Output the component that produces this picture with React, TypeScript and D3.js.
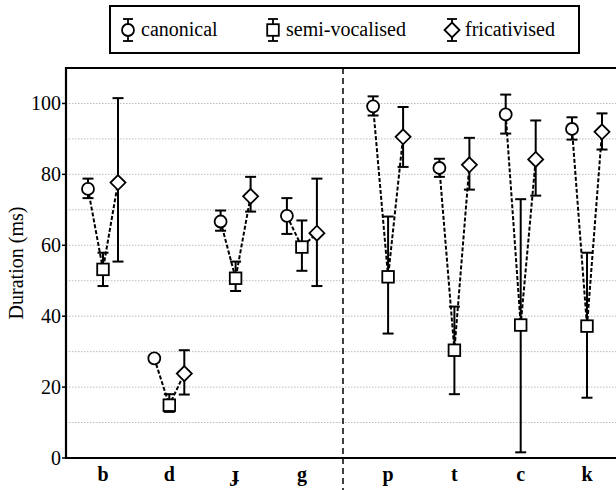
import React from "react";
import * as d3 from "d3";

const categories = ["b", "d", "ɟ", "g", "p", "t", "c", "k"];
const seriesNames = ["canonical", "semi-vocalised", "fricativised"];

const canonicalMean = [75.9, 28.1, 66.7, 68.3, 99.2, 81.8, 96.9, 92.8];
const canonicalLo = [73.3, 27.2, 64.1, 63.2, 96.6, 79.3, 91.5, 89.8];
const canonicalHi = [78.8, 29.0, 69.8, 73.3, 102.0, 84.4, 102.5, 96.1];

const semiMean = [53.2, 14.9, 50.7, 59.5, 51.1, 30.4, 37.5, 37.2];
const semiLo = [48.5, 13.0, 47.1, 52.8, 35.1, 18.0, 1.6, 17.0];
const semiHi = [57.9, 18.0, 55.4, 67.0, 68.1, 42.7, 73.0, 57.9];

const fricMean = [77.7, 23.8, 73.8, 63.4, 90.6, 82.7, 84.2, 92.0];
const fricLo = [55.4, 17.9, 69.5, 48.5, 82.1, 75.7, 74.0, 87.0];
const fricHi = [101.5, 30.4, 79.3, 78.8, 99.0, 90.3, 95.2, 97.2];

const yTicks = [0, 20, 40, 60, 80, 100];
const yGrid = [10, 20, 30, 40, 50, 60, 70, 80, 90, 100];

const W = 616;
const H = 490;
const FONT = '"Liberation Serif", "Times New Roman", Times, serif';

const series = [
  { name: seriesNames[0], shape: "circle", mean: canonicalMean, lo: canonicalLo, hi: canonicalHi, off: -15 },
  { name: seriesNames[1], shape: "square", mean: semiMean, lo: semiLo, hi: semiHi, off: 0 },
  { name: seriesNames[2], shape: "diamond", mean: fricMean, lo: fricLo, hi: fricHi, off: 15 },
];

function Marker({ shape, cx, cy }: { shape: string; cx: number; cy: number }) {
  const common = { fill: "#fff", stroke: "#000", strokeWidth: 1.8 };
  if (shape === "circle") return <circle cx={cx} cy={cy} r={6} {...common} />;
  if (shape === "square") return <rect x={cx - 5.8} y={cy - 5.8} width={11.6} height={11.6} {...common} />;
  const s = 7.5;
  return <path d={`M${cx},${cy - s}L${cx + s},${cy}L${cx},${cy + s}L${cx - s},${cy}Z`} {...common} />;
}

export default function App() {
  const left = 66;
  const top = 68;
  const bottom = 458;
  const groupGap = 0.3;
  const pos = (i: number) => i + (i >= 4 ? groupGap : 0);
  const x = d3.scaleLinear().domain([0, pos(7)]).range([103, 587]);
  const y = d3.scaleLinear().domain([0, 110]).range([bottom, top]);
  const divider = (x(pos(3)) + x(pos(4))) / 2 - 2;
  const line = d3.line<[number, number]>().x((d) => d[0]).y((d) => d[1]);
  const cap = 5.5;
  const textStyle = { fontFamily: FONT };

  return (
    <svg
      width={W}
      height={H}
      style={{ position: "absolute", left: 0, top: 0, display: "block", background: "#fff", fontFamily: FONT }}
    >
      {/* grid */}
      {yGrid.map((v) => (
        <line key={v} x1={left} x2={W} y1={y(v)} y2={y(v)} stroke="#bbb" strokeWidth={1} strokeDasharray="1.5,1.5" />
      ))}
      {/* divider */}
      <line x1={divider} x2={divider} y1={top} y2={H} stroke="#000" strokeWidth={1.5} strokeDasharray="6,4" />
      {/* frame */}
      <line x1={left} x2={W} y1={top} y2={top} stroke="#000" strokeWidth={2} />
      <line x1={left} x2={W} y1={bottom} y2={bottom} stroke="#000" strokeWidth={2.2} />
      <line x1={left} x2={left} y1={top - 1} y2={bottom + 1} stroke="#000" strokeWidth={2.2} />
      {/* y ticks */}
      {yTicks.map((v) => (
        <g key={v}>
          <line x1={left - 4} x2={left} y1={y(v)} y2={y(v)} stroke="#000" strokeWidth={1.5} />
          <text x={left - 5} y={y(v)} dy="0.35em" textAnchor="end" fontSize={20} fill="#000" style={textStyle}>
            {v}
          </text>
        </g>
      ))}
      <text
        transform={`translate(23,${(top + bottom) / 2}) rotate(-90)`}
        textAnchor="middle"
        fontSize={20}
        fill="#000"
        style={textStyle}
      >
        Duration (ms)
      </text>
      {/* x labels */}
      {categories.map((c, i) => (
        <text key={c} x={x(pos(i))} y={481} textAnchor="middle" fontSize={20} fontWeight="bold" fill="#000" style={textStyle}>
          {c}
        </text>
      ))}
      {/* connecting dashed lines */}
      {categories.map((c, i) => {
        const pts: [number, number][] = series.map((s) => [x(pos(i)) + s.off, y(s.mean[i])]);
        return <path key={c} d={line(pts) || ""} fill="none" stroke="#000" strokeWidth={2} strokeDasharray="4,2" />;
      })}
      {/* error bars */}
      {series.map((s) =>
        categories.map((c, i) => {
          const cx = x(pos(i)) + s.off;
          return (
            <g key={s.name + c} stroke="#000" strokeWidth={2}>
              <line x1={cx} x2={cx} y1={y(s.lo[i])} y2={y(s.hi[i])} />
              <line x1={cx - cap} x2={cx + cap} y1={y(s.lo[i])} y2={y(s.lo[i])} />
              <line x1={cx - cap} x2={cx + cap} y1={y(s.hi[i])} y2={y(s.hi[i])} />
            </g>
          );
        })
      )}
      {/* markers */}
      {series.map((s) =>
        categories.map((c, i) => <Marker key={s.name + c} shape={s.shape} cx={x(pos(i)) + s.off} cy={y(s.mean[i])} />)
      )}
      {/* legend */}
      <rect x={110} y={6} width={469} height={47} fill="#fff" stroke="#000" strokeWidth={2} />
      {series.map((s, k) => {
        const mx = [128, 273, 452][k];
        const cy = 30;
        return (
          <g key={s.name}>
            <g stroke="#000" strokeWidth={1.8}>
              <line x1={mx} x2={mx} y1={cy - 11} y2={cy + 11} />
              <line x1={mx - 5} x2={mx + 5} y1={cy - 11} y2={cy - 11} />
              <line x1={mx - 5} x2={mx + 5} y1={cy + 11} y2={cy + 11} />
            </g>
            <Marker shape={s.shape} cx={mx} cy={cy} />
            <text x={mx + 13} y={cy} dy="0.32em" fontSize={20} fill="#000" style={textStyle}>
              {s.name}
            </text>
          </g>
        );
      })}
    </svg>
  );
}
